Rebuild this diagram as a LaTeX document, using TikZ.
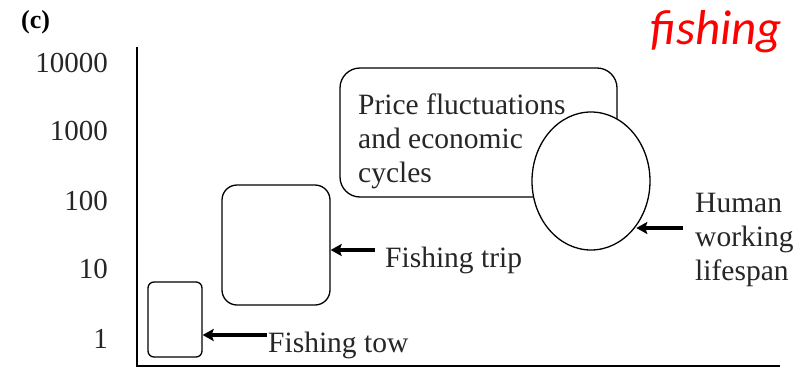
\documentclass[tikz,border=0pt]{standalone}
\usepackage{fontspec}
\setmainfont{Liberation Serif}
\newfontfamily\redfont{Carlito}
\usetikzlibrary{shapes.geometric,arrows.meta}
\begin{document}
\begin{tikzpicture}[x=1pt,y=-1pt,
  txt/.style={font=\fontsize{29.5}{34}\selectfont, inner sep=0pt, text=black!85},
  tick/.style={font=\fontsize{29}{33}\selectfont, inner sep=0pt, anchor=base east, text=black!85},
  shapebox/.style={draw, line width=1.3pt, rounded corners=#1, inner sep=0pt},
  arr/.style={line width=3.5pt, -{Stealth[length=11pt,width=12pt,inset=2pt]}},
  axis/.style={line width=1.4pt}]
\useasboundingbox (0,0) rectangle (812,370);
% axes
\coordinate (top) at (137,47);
\coordinate (origin) at (137,366);
\coordinate (xend) at (780,366);
\draw[axis] (top) -- (origin) -- (xend);
% panel label
\node[anchor=base west, inner sep=0pt, font=\bfseries\fontsize{26}{28}\selectfont] (lab) at (21,28) {(c)};
% ticks
\node[tick] (t4) at (108,72) {10000};
\node[tick] (t3) at (108,140) {1000};
\node[tick] (t2) at (108,210) {100};
\node[tick] (t1) at (108,278) {10};
\node[tick] (t0) at (108,348) {1};
% title
\node[anchor=base west, inner sep=0pt, text=red, font=\redfont\itshape\fontsize{49}{50}\selectfont] (fish) at (650,44) {fishing};
% boxes
\node[shapebox=6pt, minimum width=54pt, minimum height=75pt] (tow) at (175,319.5) {};
\node[shapebox=15pt, minimum width=108pt, minimum height=120pt] (trip) at (276,245) {};
\node[shapebox=20pt, minimum width=277pt, minimum height=129pt] (price) at (478.5,132.5) {};
\node[txt, anchor=north west, align=left] (pricetxt) at (358,94) {Price fluctuations\\and economic\\cycles};
\node[draw, ellipse, line width=1.3pt, fill=white, minimum width=118pt, minimum height=138pt, inner sep=0pt] (life) at (591,181) {};
% labels
\node[txt, anchor=base west] (triplab) at (385,267) {Fishing trip};
\node[txt, anchor=base west] (towlab) at (268,352) {Fishing tow};
\node[txt, anchor=north west, align=left] (humlab) at (695,193) {Human\\working\\lifespan};
% arrows
\coordinate (a1) at (267,335);
\coordinate (a2) at (375,250);
\coordinate (a3) at (683,228);
\draw[arr] (a1) -- (a1 -| tow.east);
\draw[arr] (a2) -- (a2 -| trip.east);
\draw[arr] (a3) -- (a3 -| life.-45);
\end{tikzpicture}
\end{document}
